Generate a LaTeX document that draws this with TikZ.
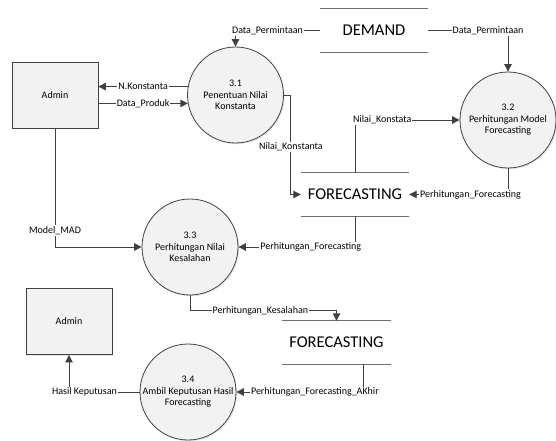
\documentclass[tikz,border=0pt]{standalone}
\usepackage{fontspec}
\setmainfont{Carlito}
\usetikzlibrary{arrows.meta,shadows}

\definecolor{lineclr}{HTML}{404040}
\definecolor{shapefill}{HTML}{F2F2F2}
\definecolor{storeclr}{HTML}{707070}

\begin{document}
\begin{tikzpicture}[
  x=1pt, y=-1pt,
  font=\fontsize{10}{11.5}\selectfont,
  >={Triangle[length=7.5pt,width=7.5pt]},
  proc/.style={circle, draw=lineclr, line width=0.8pt, fill=shapefill,
    minimum size=96pt, inner sep=0pt, align=center,
    drop shadow={opacity=0.2, shadow xshift=1.2pt, shadow yshift=-1.2pt}},
  ent/.style={rectangle, draw=lineclr, line width=0.8pt, fill=shapefill,
    minimum width=86pt, minimum height=66pt,
    drop shadow={opacity=0.2, shadow xshift=1.2pt, shadow yshift=-1.2pt}},
  storeline/.style={-, draw=storeclr, line width=1pt},
  store/.style={font=\fontsize{16.5}{20}\selectfont, minimum width=108pt,
    minimum height=43pt, inner sep=0pt,
    append after command={(\tikzlastnode.north west) edge[storeline] (\tikzlastnode.north east)
      (\tikzlastnode.south west) edge[storeline] (\tikzlastnode.south east)}},
  flow/.style={->, draw=lineclr, line width=0.9pt},
  lbl/.style={fill=white, inner sep=1pt},
]
\useasboundingbox (0,0) rectangle (556,441);

% entities
\node[ent] (admina) at (55,95) {Admin};
\node[ent] (adminb) at (69,321.5) {Admin};

% processes
\node[proc] (p31) at (235.5,95) {3.1\\Penentuan Nilai\\Konstanta};
\node[proc] (p32) at (508,120) {3.2\\Perhitungan Model\\Forecasting};
\node[proc] (p33) at (190,247) {3.3\\Perhitungan Nilai\\Kesalahan};
\node[proc] (p34) at (188,392) {3.4\\Ambil Keputusan Hasil\\Forecasting};

% data stores
\node[store] (demand) at (374,30.5) {DEMAND};
\node[store] (fca) at (355,194.5) {FORECASTING};
\node[store] (fcb) at (336.5,342.5) {FORECASTING};

% flows
\draw[flow] (demand.west) -| node[lbl, pos=0.31] {Data\_Permintaan} (p31.north);
\draw[flow] (demand.east) -| node[lbl, pos=0.375] {Data\_Permintaan} (p32.north);
\draw[flow] (p31.170) -- node[lbl] {N.Konstanta} (admina.east |- p31.170);
\draw[flow] (admina.east |- p31.190) -- node[lbl] {Data\_Produk} (p31.190);
\draw[flow] (p31.east) -- ++(7,0) |- node[lbl, pos=0.26] {Nilai\_Konstanta} (fca.west);
\draw[flow] (fca.north) |- node[lbl, pos=0.63] {Nilai\_Konstata} (p32.west);
\draw[flow] (p32.south) |- node[lbl, pos=0.69] {Perhitungan\_Forecasting} (fca.east);
\draw[flow] (fca.south) |- node[lbl, pos=0.69] {Perhitungan\_Forecasting} (p33.east);
\draw[flow] (admina.south) |- node[lbl, pos=0.43] {Model\_MAD} (p33.west);
\draw[flow] (p33.south) -- ++(0,15) -| node[lbl, pos=0.24] {Perhitungan\_Kesalahan} (fcb.north);
\draw[flow] ([xshift=26.5pt]fcb.south) |- node[lbl, pos=0.69] {Perhitungan\_Forecasting\_AKhir} (p34.east);
\draw[flow] (p34.west) -| node[lbl, pos=0.39] {Hasil Keputusan} (adminb.south);
\end{tikzpicture}
\end{document}
